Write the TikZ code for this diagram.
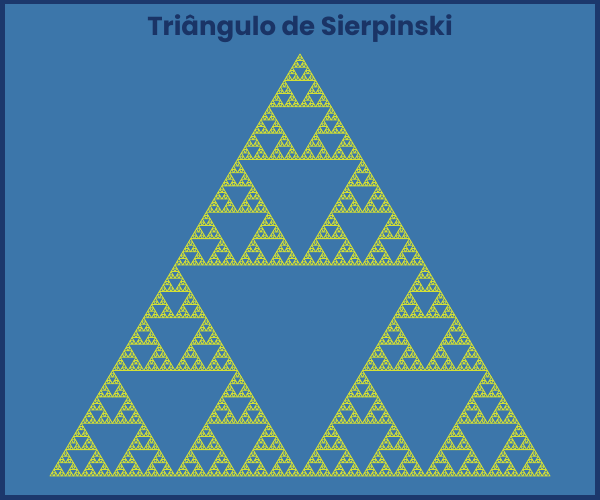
\documentclass[tikz,border=0pt]{standalone}
\usepackage{fontspec}
\newfontfamily\titlefont{Poppins}
\definecolor{bgblue}{RGB}{60,118,170}
\definecolor{frameblue}{RGB}{28,56,108}
\definecolor{titleblue}{RGB}{26,52,102}
\definecolor{sieryellow}{RGB}{212,224,52}
\tikzset{tri/.style={draw=sieryellow,line width=0.8pt,line join=round}}
\newcommand\sier[4]{%
 \ifnum#1=0\relax
   \draw[tri] (#2,#3) -- ++(#4,0) -- ++(-0.5*#4,0.844*#4) -- cycle;
 \else
   \begingroup
   \pgfmathsetmacro\sS{#4/2}%
   \pgfmathsetmacro\xB{#2+\sS}%
   \pgfmathsetmacro\xC{#2+\sS/2}%
   \pgfmathsetmacro\yC{#3+0.844*\sS}%
   \pgfmathtruncatemacro\nN{#1-1}%
   \edef\next{\noexpand\sier{\nN}{#2}{#3}{\sS}\noexpand\sier{\nN}{\xB}{#3}{\sS}\noexpand\sier{\nN}{\xC}{\yC}{\sS}}%
   \next
   \endgroup
 \fi}
\begin{document}
\begin{tikzpicture}[x=1pt,y=1pt]
\useasboundingbox (0,0) rectangle (600,500);
\fill[frameblue] (0,0) rectangle (600,500);
\fill[bgblue] (5,5) rectangle (595,496);
\node[font=\titlefont\bfseries\fontsize{26}{30}\selectfont,text=titleblue,anchor=base] (title) at (300,464) {Triângulo de Sierpinski};
\sier{7}{50}{24}{500}
\end{tikzpicture}
\end{document}
